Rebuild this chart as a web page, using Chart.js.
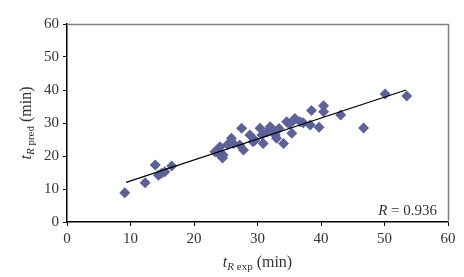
<!DOCTYPE html>
<html>
<head>
<meta charset="utf-8">
<script src="https://cdn.jsdelivr.net/npm/chart.js@4.4.1/dist/chart.umd.min.js"></script>
<style>
  html, body { margin: 0; padding: 0; background: #fff; }
</style>
</head>
<body>
<canvas id="chart" width="464" height="277"></canvas>
<script>
const expTimes = [9.1, 12.3, 13.9, 14.4, 14.9, 15.4, 16.5,
    23.3, 23.8, 24.1, 24.5, 24.6, 25.3, 25.9, 26.2, 27.2, 27.5, 27.8, 28.8, 29.3,
    29.6, 30.4, 30.7, 30.9, 31.5, 32.0, 32.2, 32.8, 33.0, 33.4, 34.1, 34.6, 35.0,
    35.4, 35.6, 35.9, 36.7, 37.2, 38.3, 38.5, 39.7, 40.4, 40.4, 43.1, 46.7, 50.1, 53.5];
const predTimes = [8.9, 11.9, 17.3, 14.2, 14.8, 15.2, 17.0,
    21.3, 20.8, 22.8, 19.4, 20.3, 23.5, 25.4, 23.8, 23.3, 28.4, 21.8, 26.4, 24.3,
    24.8, 28.4, 26.4, 23.8, 27.2, 28.9, 27.9, 26.4, 25.4, 28.3, 23.8, 30.4, 29.7,
    26.9, 30.7, 31.4, 30.4, 30.1, 29.4, 33.8, 28.7, 35.2, 33.4, 32.4, 28.5, 38.8, 38.2];
const trendX = [9.3, 53.4];
const trendY = [12.0, 40.0];
const axisTicks = [0, 10, 20, 30, 40, 50, 60];
const rLabel = '0.936';

const SERIF = '"Liberation Serif", "DejaVu Serif", serif';

function drawRuns(ctx, runs, x, y) {
    let total = 0;
    runs.forEach(r => { ctx.font = r.font; r.w = ctx.measureText(r.text).width; total += r.w; });
    let cx = x - total / 2;
    runs.forEach(r => {
        ctx.font = r.font;
        ctx.fillText(r.text, cx, y + (r.dy || 0));
        cx += r.w;
    });
}

function titleRuns(sub) {
    return [
        { text: 't', font: 'italic 16px ' + SERIF },
        { text: 'R', font: 'italic 11px ' + SERIF, dy: 3 },
        { text: ' ' + sub, font: '11px ' + SERIF, dy: 3 },
        { text: ' (min)', font: '16px ' + SERIF }
    ];
}

const decorations = {
    id: 'decorations',
    afterDraw(c) {
        const { ctx, chartArea: a } = c;
        ctx.save();
        // grey top and right frame
        ctx.strokeStyle = '#7f7f7f';
        ctx.lineWidth = 1.5;
        ctx.beginPath();
        ctx.moveTo(a.left, a.top + 0.5);
        ctx.lineTo(a.right + 0.5, a.top + 0.5);
        ctx.lineTo(a.right + 0.5, a.bottom);
        ctx.stroke();

        ctx.fillStyle = '#333';
        ctx.textBaseline = 'alphabetic';
        // x title
        drawRuns(ctx, titleRuns('exp'), (a.left + a.right) / 2, 267);
        // y title
        ctx.save();
        ctx.translate(31, (a.top + a.bottom) / 2);
        ctx.rotate(-Math.PI / 2);
        drawRuns(ctx, titleRuns('pred'), 0, 0);
        ctx.restore();

        // R value
        ctx.font = '15px ' + SERIF;
        const num = ' = ' + rLabel;
        const wNum = ctx.measureText(num).width;
        ctx.fillText(num, a.right - 11 - wNum, a.bottom - 7);
        ctx.font = 'italic 15px ' + SERIF;
        const wR = ctx.measureText('R').width;
        ctx.fillText('R', a.right - 11 - wNum - wR, a.bottom - 7);
        ctx.restore();
    }
};

const tickFont = { family: SERIF, size: 15 };

new Chart(document.getElementById('chart'), {
    data: {
        datasets: [
            {
                type: 'scatter',
                data: expTimes.map((x, i) => ({ x, y: predTimes[i] })),
                pointStyle: 'rectRot',
                pointRadius: 5.5,
                pointBackgroundColor: '#5d6199',
                pointBorderColor: '#5d6199',
                pointBorderWidth: 0,
                order: 2
            },
            {
                type: 'line',
                data: trendX.map((x, i) => ({ x, y: trendY[i] })),
                borderColor: '#000',
                borderWidth: 1.2,
                pointRadius: 0,
                fill: false,
                order: 1
            }
        ]
    },
    options: {
        responsive: false,
        animation: false,
        layout: { padding: { top: 24, right: 16, left: 0, bottom: 0 } },
        plugins: { legend: { display: false }, tooltip: { enabled: false } },
        scales: {
            x: {
                type: 'linear',
                min: 0, max: 60,
                afterBuildTicks: s => { s.ticks = axisTicks.map(v => ({ value: v })); },
                afterFit: s => { s.height = 55; },
                grid: { drawOnChartArea: false, tickLength: 4, color: '#000' },
                border: { color: '#000', width: 1.5 },
                ticks: { font: tickFont, color: '#333', padding: 4, maxRotation: 0 }
            },
            y: {
                type: 'linear',
                min: 0, max: 60,
                afterBuildTicks: s => { s.ticks = axisTicks.map(v => ({ value: v })); },
                afterFit: s => { s.width = 67; },
                grid: { drawOnChartArea: false, tickLength: 4, color: '#000' },
                border: { color: '#000', width: 1.5 },
                ticks: { font: tickFont, color: '#333', padding: 4 }
            }
        }
    },
    plugins: [decorations]
});
</script>
</body>
</html>
